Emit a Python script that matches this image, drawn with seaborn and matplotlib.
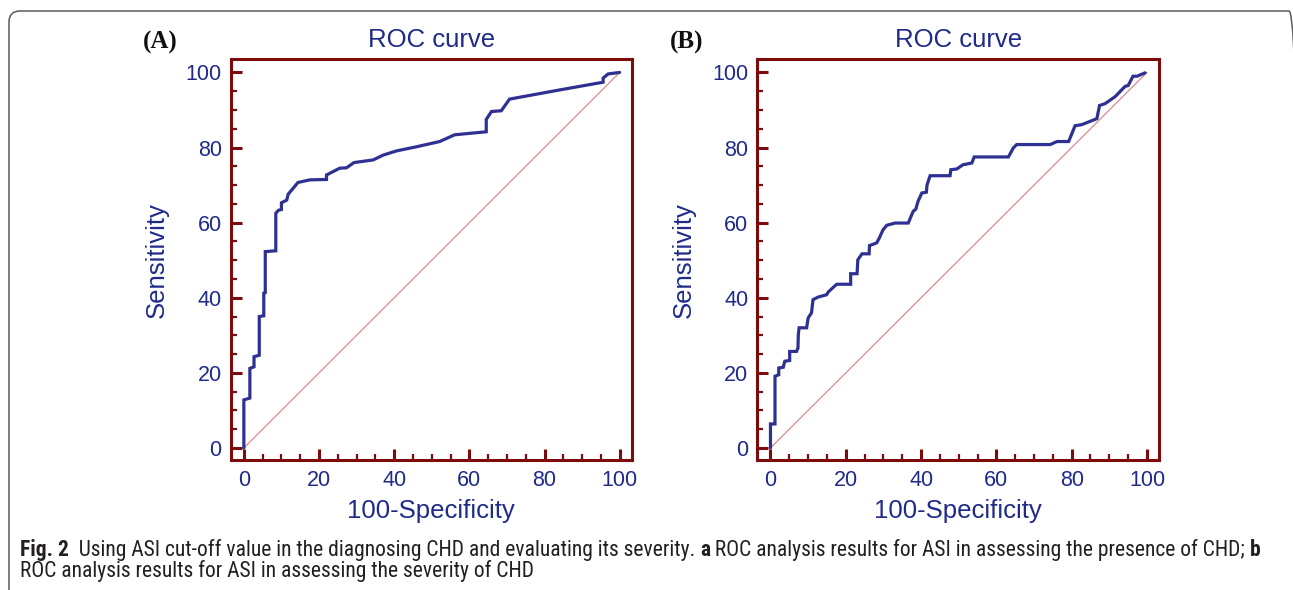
import matplotlib
matplotlib.use("Agg")
import numpy as np
import pandas as pd
import seaborn as sns
import matplotlib.pyplot as plt
from matplotlib.ticker import MultipleLocator, FixedLocator
from matplotlib.patches import FancyBboxPatch
from matplotlib.transforms import IdentityTransform
from matplotlib import font_manager as fm

# ---------------- data ----------------
roc_a_fpr = [0, 0, 1.6, 1.6, 2.7, 2.7, 4.1, 4.1, 5.3, 5.3, 5.7, 5.7, 8.5, 8.5, 9.2, 10.0,
             10.0, 11.4, 11.8, 13.0, 14.4, 17.6, 22.0, 22.0, 25.5, 27.3, 29.3, 34.4, 37.1,
             40.6, 45.9, 52.1, 56.1, 64.5, 64.5, 65.9, 68.5, 70.7, 84.9, 95.6, 95.6, 96.9, 100]
roc_a_tpr = [0, 12.8, 13.3, 21.2, 21.6, 24.3, 24.7, 35.0, 35.2, 41.2, 41.4, 52.3, 52.5, 62.5,
             63.3, 63.5, 65.3, 66.0, 67.6, 69.0, 70.7, 71.4, 71.5, 72.7, 74.5, 74.6, 76.0, 76.7,
             78.0, 79.1, 80.2, 81.6, 83.4, 84.2, 87.5, 89.6, 89.8, 92.9, 95.5, 97.4, 98.5, 99.6, 100]

roc_b_fpr = [0, 0, 1.2, 1.2, 2.2, 2.2, 3.4, 3.8, 5.1, 5.1, 6.9, 7.3, 7.4, 7.6, 9.6, 10.0,
             10.9, 11.3, 12.7, 14.9, 15.4, 17.6, 21.3, 21.3, 23.0, 23.2, 24.3, 26.2, 26.3,
             28.2, 28.9, 29.9, 30.9, 33.1, 36.6, 37.9, 38.6, 39.2, 40.2, 41.4, 41.6, 42.4,
             47.7, 47.9, 49.5, 51.1, 53.5, 54.1, 63.2, 64.5, 65.4, 74.3, 76.1, 79.2, 80.9,
             82.7, 86.7, 87.4, 88.9, 91.6, 94.2, 95.0, 96.3, 97.4, 99.5]
roc_b_tpr = [0, 6.4, 6.4, 19.1, 19.5, 21.3, 21.5, 23.1, 23.3, 25.7, 25.7, 26.6, 30.2, 32.0,
             32.0, 34.6, 36.0, 39.5, 40.2, 40.8, 41.6, 43.6, 43.6, 46.4, 46.4, 50.1, 51.7, 51.7,
             53.9, 54.6, 55.9, 58.1, 59.3, 59.9, 59.9, 63.0, 63.6, 65.7, 67.9, 68.1, 70.1, 72.5,
             72.5, 74.1, 74.3, 75.4, 75.9, 77.5, 77.5, 79.9, 80.8, 80.8, 81.6, 81.6, 85.8,
             86.1, 87.7, 91.2, 91.7, 93.6, 96.3, 96.5, 99.0, 99.0, 99.9]

diag_x = [0, 100]
diag_y = [0, 100]
major_ticks = [0, 20, 40, 60, 80, 100]
panel_labels = ["(A)", "(B)"]
title_text = "ROC curve"
xlabel_text = "100-Specificity"
ylabel_text = "Sensitivity"
caption_line1 = [("Fig. 2", "bold"),
                 ("  Using ASI cut-off value in the diagnosing CHD and evaluating its severity. ", "normal"),
                 ("a", "bold"),
                 (" ROC analysis results for ASI in assessing the presence of CHD; ", "normal"),
                 ("b", "bold")]
caption_line2 = "ROC analysis results for ASI in assessing the severity of CHD"

# ---------------- style ----------------
sns.set_style("white")
plt.rcParams["font.family"] = ["Liberation Sans", "DejaVu Sans"]

NAVY = "#1f2a8a"
CURVE = "#2e3192"
MAROON = "#7d0b0b"
DIAG = "#d98c8c"

W, H = 1293, 590
fig = plt.figure(figsize=(W / 100, H / 100), dpi=100)
fig.patch.set_facecolor("white")


def axes_px(l, t, r, b):
    return fig.add_axes([l / W, 1 - b / H, (r - l) / W, (b - t) / H])


axA = axes_px(230.7, 59.3, 631.7, 460)
axB = axes_px(757.3, 59.3, 1159, 460)

for ax, fpr, tpr in [(axA, roc_a_fpr, roc_a_tpr), (axB, roc_b_fpr, roc_b_tpr)]:
    ax.set_facecolor("white")
    dd = pd.DataFrame({"x": diag_x, "y": diag_y})
    sns.lineplot(data=dd, x="x", y="y", ax=ax, color=DIAG, lw=0.9,
                 sort=False, estimator=None, zorder=2)
    df = pd.DataFrame({"x": fpr, "y": tpr})
    sns.lineplot(data=df, x="x", y="y", ax=ax, color=CURVE, lw=2.3,
                 sort=False, estimator=None, zorder=3, solid_joinstyle="miter")
    ax.set_xlim(-3.5, 103.2)
    ax.set_ylim(-3.2, 103.5)
    ax.xaxis.set_major_locator(FixedLocator(major_ticks))
    ax.yaxis.set_major_locator(FixedLocator(major_ticks))
    ax.xaxis.set_minor_locator(MultipleLocator(5))
    ax.yaxis.set_minor_locator(MultipleLocator(5))
    ax.tick_params(which="both", bottom=True, left=True, top=False, right=False)
    ax.tick_params(which="major", direction="in", length=7.8, width=2.2, color=MAROON,
                   labelcolor=NAVY, labelsize=15.5)
    ax.tick_params(axis="y", which="major", pad=6.5)
    ax.tick_params(axis="x", which="major", pad=7)
    ax.tick_params(which="minor", direction="in", length=4.2, width=1.6, color=MAROON)
    for s in ax.spines.values():
        s.set_visible(True)
        s.set_color(MAROON)
        s.set_linewidth(2.2)
    ax.set_title(title_text, fontsize=18.5, color=NAVY, pad=9)
    ax.set_xlabel(xlabel_text, fontsize=18.5, color=NAVY, labelpad=6)
    ax.set_ylabel(ylabel_text, fontsize=18.5, color=NAVY, labelpad=12)
    ax.grid(False)

# panel labels
for lab, xc in zip(panel_labels, [160, 687]):
    fig.text(xc / W, 1 - 42.5 / H, lab, ha="center", va="center", fontsize=18,
             fontweight="bold", family=["Liberation Serif", "DejaVu Serif"], color="#111111")

# frame around figure (rounded corners, right/bottom sides run off the canvas)
frame = FancyBboxPatch((9, -12), 1300 - 9, (H - 11) + 12,
                       boxstyle="round,pad=0,rounding_size=11",
                       transform=IdentityTransform(), fill=False,
                       edgecolor="#5a5a5a", lw=1.1)
fig.add_artist(frame)

# ---------------- caption ----------------
names = {f.name for f in fm.fontManager.ttflist}
cond_dejavu = any(f.name == "DejaVu Sans" and f.stretch == "condensed" for f in fm.fontManager.ttflist)
if "Liberation Sans Narrow" in names:
    cap_family, cap_stretch = ["Liberation Sans Narrow", "DejaVu Sans"], "normal"
elif "Roboto Condensed" in names:
    cap_family, cap_stretch = ["Roboto Condensed", "DejaVu Sans"], "normal"
elif cond_dejavu:
    cap_family, cap_stretch = ["DejaVu Sans", "DejaVu Sans"], "condensed"
else:
    cap_family, cap_stretch = ["Open Sans", "DejaVu Sans"], "normal"

CAP_COLOR = "#231f20"
x_start = 20.5
target_right = 1257.0
base1 = H - 556
base2 = H - 577

renderer = fig.canvas.get_renderer()


def place_line(parts, size):
    arts = []
    x = x_start
    for txt, wt in parts:
        t = fig.text(x / W, base1 / H, txt, fontsize=size, fontweight=wt, family=cap_family,
                     fontstretch=cap_stretch, color=CAP_COLOR, ha="left", va="baseline")
        bb = t.get_window_extent(renderer=renderer)
        x = bb.x1
        arts.append(t)
    return arts, x


arts, xr = place_line(caption_line1, 10)
for a in arts:
    a.remove()
cap_size = 10 * (target_right - x_start) / (xr - x_start)
arts, xr = place_line(caption_line1, cap_size)
fig.text(x_start / W, base2 / H, caption_line2, fontsize=cap_size, family=cap_family,
         fontstretch=cap_stretch, color=CAP_COLOR, ha="left", va="baseline")

fig.savefig("out.png", dpi=100, facecolor="white")
